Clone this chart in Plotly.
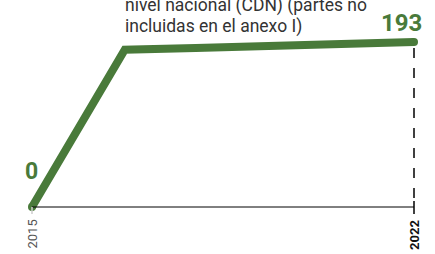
import plotly.graph_objects as go

# data
years = [2015, 2016.7, 2018, 2019, 2020, 2020.4, 2021, 2022]
parties = [0, 184, 186, 188, 190, 192, 192.5, 193]
start_label = "0"
end_label = "193"
tick_labels = ["2015", "2022"]
title_lines = ["nivel nacional (CDN) (partes no", "incluidas en el anexo I)"]

GREEN = "#497a3a"
W, H = 435, 254
ml, mr, mt, mb = 20, 10, 10, 38
x0, x1 = 2015, 2022
px_per_year = (414 - 32) / 7
xr = [x0 - (32 - ml) / px_per_year, x1 + (W - mr - 414) / px_per_year]
px_per_unit = (207 - 42) / 193
plot_h = H - mt - mb
yr = [-(H - mb - 207) / px_per_unit, (207 - mt) / px_per_unit]


def paper_y(py):
    return (H - mb - py) / plot_h


def data_y(py):
    return (207 - py) / px_per_unit


fig = go.Figure()
fig.add_trace(go.Scatter(
    x=years, y=parties, mode="lines",
    line=dict(color=GREEN, width=8, shape="linear"),
    hoverinfo="skip",
))
fig.add_trace(go.Scatter(
    x=[years[0], years[-1]], y=[parties[0], parties[-1]], mode="markers",
    marker=dict(color=GREEN, size=8, line=dict(width=0)),
    cliponaxis=False, hoverinfo="skip",
))

shapes = [
    dict(type="line", xref="x", yref="y", x0=x0, x1=x1, y0=0, y1=0,
         line=dict(color="black", width=1)),
    dict(type="line", xref="x", yref="y", x0=x1, x1=x1, y0=data_y(48), y1=0,
         line=dict(color="black", width=1.5, dash="10px,10px")),
    dict(type="line", xref="x", yref="paper", x0=x0, x1=x0,
         y0=paper_y(207), y1=paper_y(214), line=dict(color="#cccccc", width=1.5)),
    dict(type="line", xref="x", yref="paper", x0=x1, x1=x1,
         y0=paper_y(201), y1=paper_y(214), line=dict(color="black", width=1.5)),
]

annotations = [
    dict(x=x0, xref="x", y=paper_y(218), yref="paper", text=tick_labels[0],
         textangle=-90, showarrow=False, xanchor="center", yanchor="top",
         font=dict(family="Roboto", size=13, color="#555555")),
    dict(x=x1, xref="x", y=paper_y(218), yref="paper", text="<b>" + tick_labels[1] + "</b>",
         textangle=-90, showarrow=False, xanchor="center", yanchor="top",
         font=dict(family="Roboto", size=13, color="#111111")),
    dict(x=years[0], xref="x", y=paper_y(186.5), yref="paper", text="<b>" + start_label + "</b>",
         showarrow=False, xanchor="center", yanchor="bottom", xshift=-1,
         font=dict(family="Roboto", size=23, color=GREEN)),
    dict(x=years[-1], xref="x", y=paper_y(38.8), yref="paper", text="<b>" + end_label + "</b>",
         showarrow=False, xanchor="right", yanchor="bottom", xshift=10,
         font=dict(family="Roboto", size=24, color=GREEN)),
    dict(x=years[1], xref="x", y=paper_y(18.5), yref="paper", text=title_lines[0],
         showarrow=False, xanchor="left", yanchor="bottom", align="left", xshift=-2,
         font=dict(family="Roboto", size=17.5, color="#333333")),
    dict(x=years[1], xref="x", y=paper_y(38.5), yref="paper", text=title_lines[1],
         showarrow=False, xanchor="left", yanchor="bottom", align="left", xshift=-2,
         font=dict(family="Roboto", size=17.5, color="#333333")),
]

fig.update_layout(
    width=W, height=H,
    margin=dict(l=ml, r=mr, t=mt, b=mb, autoexpand=False),
    paper_bgcolor="white", plot_bgcolor="white",
    showlegend=False,
    xaxis=dict(range=xr, visible=False, fixedrange=True),
    yaxis=dict(range=yr, visible=False, fixedrange=True),
    shapes=shapes, annotations=annotations,
)

fig.write_html("out.html", config={"displayModeBar": False},
               post_script="document.body.style.margin='0';document.body.style.overflow='hidden';")
